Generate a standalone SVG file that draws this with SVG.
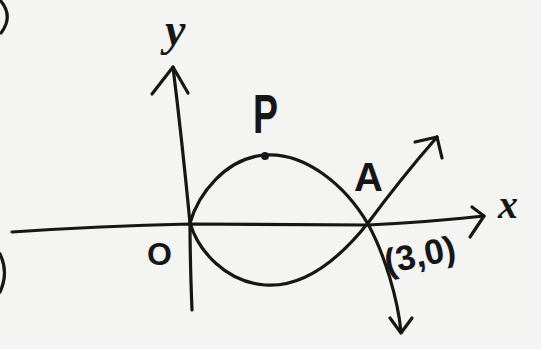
<svg xmlns="http://www.w3.org/2000/svg" width="541" height="349" viewBox="0 0 541 349">
<style>
.ink{fill:none;stroke:#161616;stroke-width:3.2;stroke-linecap:round;stroke-linejoin:round}
.lbl{fill:#161616;font-family:"Liberation Sans",Arial,sans-serif;font-weight:bold}
.it{fill:#161616;font-family:"Liberation Serif","Times New Roman",serif;font-style:italic;font-weight:bold}
</style>
<rect width="541" height="349" fill="#f4f4f2"/>
<g id="margin-marks">
<path class="ink" d="M0,0 Q14,16 1,33"/>
<path class="ink" d="M0,254 Q9,273 0,292"/>
</g>
<g id="axes">
<path id="x-axis" class="ink" d="M12,232 Q100,226 190,224 L368,225 Q430,222 484,216"/>
<path id="x-arrow" class="ink" d="M472,207 L484,216 L470,237"/>
<path id="y-axis" class="ink" d="M192,310 Q190,260 190,223 Q182,140 173,67"/>
<path id="y-arrow" class="ink" d="M152,94 L173,67 L188,93"/>
</g>
<g id="curves">
<path id="curve-upper" class="ink" d="M190,223 C198,195 225,158 265,155 C305,152 345,185 368,224 C385,255 398,300 401,332"/>
<path id="arrow-down" class="ink" d="M390,318 L401,333 L412,318"/>
<path id="curve-lower" class="ink" d="M190,223 C198,250 225,282 265,285 C305,288 340,258 368,223 C385,200 410,168 437,137"/>
<path id="arrow-up" class="ink" d="M415,142 L437,137 L442,158"/>
<circle id="point-P" cx="265" cy="156" r="4" fill="#161616"/>
</g>
<g id="labels">
<text class="it" x="165" y="45" font-size="46">y</text>
<text class="it" x="498" y="218" font-size="40">x</text>
<text class="lbl" x="147" y="265" font-size="32">O</text>
<text class="lbl" x="253" y="133" font-size="56" textLength="25" lengthAdjust="spacingAndGlyphs">P</text>
<text class="lbl" x="354" y="191" font-size="40">A</text>
<text class="lbl" x="387" y="274" font-size="35" transform="rotate(-12 387 274)">(3,0)</text>
</g>
</svg>
